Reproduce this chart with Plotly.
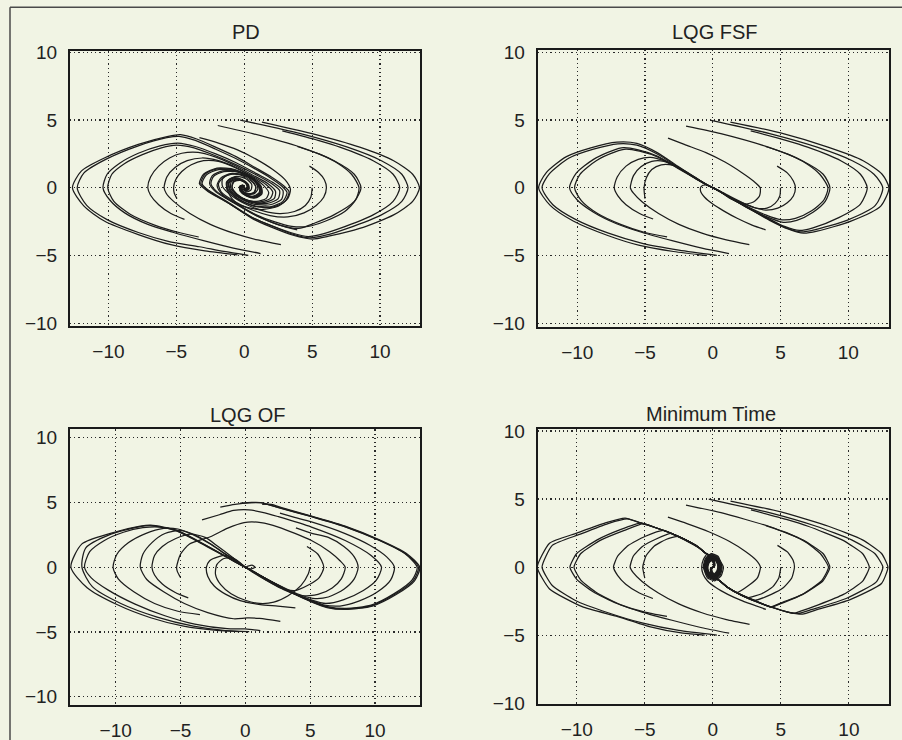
import plotly.graph_objects as go

TICKS = [-10, -5, 0, 5, 10]
TICK_TEXT = ["\u221210", "\u22125", "0", "5", "10"]
TITLES = ["PD", "LQG FSF", "LQG OF", "Minimum Time"]

# ---------------- PD (traced trajectories, (x, v) pairs) ----------------
PD_PATHS = [
    [(1.3,4.85),(5.0,4.0),(8.5,3.0),(11.0,2.0),(12.4,1.0),(12.9,0.0),(12.4,-1.0),(11.0,-2.0),(8.5,-3.0),(6.3,-3.55),(5.0,-3.78),(3.6,-3.5),(2.0,-2.9),(0.7,-2.33),(-1.2,-1.1),(-2.7,-0.25),(-3.3,0.3),(-3.0,1.0),(-2.0,1.45),(-0.7,1.35),(0.5,0.8),(1.25,0.1),(1.3,-0.45),(0.8,-0.75),(0.15,-0.6),(-0.3,-0.25),(-0.35,0.1),(-0.1,0.2),(0.0,0.0)],
    [(-0.3,5.0),(4.15,4.0),(7.6,3.0),(10.1,2.0),(11.6,1.0),(12.06,0.0),(11.6,-1.0),(10.1,-2.0),(7.6,-3.0),(6.0,-3.5),(4.8,-3.7),(3.5,-3.4),(2.0,-2.8),(0.6,-2.2),(-1.3,-1.0),(-2.6,-0.2),(-3.1,0.3),(-2.8,0.95),(-1.9,1.35),(-0.6,1.25),(0.5,0.75),(1.15,0.1),(1.2,-0.4),(0.75,-0.7),(0.15,-0.55),(-0.25,-0.22),(-0.3,0.1),(-0.1,0.18),(0.0,0.0)],
    [(2.8,4.2),(5.44,3.5),(7.04,3.0),(9.49,2.0),(10.96,1.0),(11.45,0.0),(10.96,-1.0),(9.49,-2.0),(7.04,-3.0),(5.8,-3.4),(4.7,-3.6),(3.4,-3.3),(1.9,-2.75),(0.5,-2.15),(-1.3,-1.05),(-2.7,-0.2),(-3.2,0.3),(-2.9,1.0),(-2.0,1.4),(-0.7,1.3),(0.5,0.78),(1.2,0.1),(1.25,-0.42),(0.78,-0.72),(0.15,-0.58),(-0.28,-0.24),(-0.32,0.1),(-0.1,0.19),(0.0,0.0)],
    [(-1.95,4.6),(0.62,4.0),(4.12,3.0),(6.61,2.0),(8.1,1.0),(8.6,0.0),(8.1,-1.0),(6.6,-2.0),(5.2,-2.6),(4.0,-3.0),(2.6,-2.75),(1.0,-2.1),(-0.8,-1.1),(-2.1,-0.3),(-2.55,0.3),(-2.35,0.9),(-1.6,1.25),(-0.5,1.2),(0.5,0.7),(1.1,0.1),(1.15,-0.38),(0.7,-0.65),(0.1,-0.5),(-0.25,-0.2),(-0.25,0.1),(-0.05,0.15),(0.0,0.0)],
    [(3.9,3.05),(5.5,2.5),(6.9,1.8),(7.9,1.0),(8.45,0.0),(8.2,-0.9),(7.4,-1.75),(6.0,-2.45),(4.7,-2.85),(3.5,-2.85),(2.2,-2.5),(0.8,-1.95),(-0.8,-1.05),(-2.0,-0.3),(-2.45,0.3),(-2.25,0.85),(-1.5,1.2),(-0.45,1.15),(0.5,0.7),(1.05,0.1),(1.1,-0.35),(0.65,-0.62),(0.1,-0.48),(-0.22,-0.2),(-0.22,0.1),(-0.05,0.14),(0.0,0.0)],
    [(4.8,1.6),(5.45,1.15),(5.9,0.6),(6.05,0.0),(5.85,-0.7),(5.3,-1.3),(4.4,-1.85),(3.2,-2.15),(1.9,-2.05),(0.5,-1.6),(-0.8,-0.95),(-1.7,-0.3),(-1.9,0.3),(-1.5,0.8),(-0.7,1.05),(0.2,0.85),(0.85,0.4),(1.0,-0.1),(0.7,-0.45),(0.15,-0.45),(-0.2,-0.2),(-0.2,0.08),(0.0,0.0)],
    [(5.0,0.0),(4.9,-0.7),(4.5,-1.3),(3.7,-1.75),(2.6,-1.9),(1.4,-1.7),(0.2,-1.25),(-0.9,-0.6),(-1.6,0.1),(-1.6,0.65),(-1.1,1.0),(-0.3,0.95),(0.45,0.55),(0.85,0.05),(0.75,-0.35),(0.3,-0.45),(-0.1,-0.25),(-0.15,0.05),(0.0,0.0)],
    [(-3.3,3.7),(-1.9,3.3),(-0.5,2.8),(0.9,2.1),(2.1,1.35),(3.0,0.6),(3.4,-0.1),(3.2,-0.8),(2.5,-1.35),(1.4,-1.6),(0.2,-1.45),(-0.9,-1.0),(-1.7,-0.4),(-2.0,0.2),(-1.7,0.75),(-1.0,1.05),(-0.1,0.95),(0.55,0.55),(0.85,0.05),(0.7,-0.35),(0.25,-0.45),(-0.1,-0.25),(-0.15,0.05),(0.0,0.0)],
    [(-0.5,-4.95),(-2.9,-4.66),(-5.4,-4.2),(-7.8,-3.45),(-10.3,-2.45),(-11.8,-1.35),(-12.65,0.0),(-12.0,1.23),(-10.3,2.2),(-7.8,3.2),(-5.6,3.8),(-4.7,3.92),(-3.5,3.6),(-2.0,2.95),(-0.6,2.3),(0.8,1.5),(2.0,0.8),(2.9,0.15),(3.3,-0.3),(3.0,-1.0),(2.0,-1.45),(0.7,-1.35),(-0.5,-0.8),(-1.25,-0.1),(-1.3,0.45),(-0.8,0.75),(-0.15,0.6),(0.3,0.25),(0.35,-0.1),(0.1,-0.2),(0.0,0.0)],
    [(0.3,-4.99),(-1.5,-4.7),(-3.3,-4.35),(-5.6,-3.95),(-7.8,-3.3),(-10.1,-2.35),(-11.6,-1.3),(-12.3,0.0),(-11.8,1.1),(-10.2,2.1),(-7.8,3.1),(-5.7,3.7),(-4.8,3.8),(-3.6,3.5),(-2.1,2.85),(-0.7,2.2),(0.7,1.45),(1.9,0.75),(2.8,0.1),(3.15,-0.35),(2.85,-1.0),(1.9,-1.4),(0.6,-1.3),(-0.5,-0.78),(-1.2,-0.1),(-1.25,0.43),(-0.78,0.72),(-0.15,0.58),(0.28,0.24),(0.32,-0.1),(0.1,-0.19),(0.0,0.0)],
    [(1.2,-4.85),(-0.8,-4.45),(-3.0,-3.9),(-5.2,-3.3),(-7.1,-2.7),(-8.8,-1.85),(-9.9,-0.9),(-10.4,0.0),(-10.1,1.0),(-9.2,1.8),(-7.8,2.55),(-6.2,3.1),(-4.9,3.3),(-3.6,3.05),(-2.1,2.5),(-0.6,1.85),(0.9,1.05),(2.1,0.4),(2.85,-0.2),(2.75,-0.85),(1.9,-1.25),(0.7,-1.2),(-0.45,-0.7),(-1.1,-0.1),(-1.15,0.4),(-0.7,0.68),(-0.1,0.52),(0.25,0.2),(0.25,-0.1),(0.05,-0.15),(0.0,0.0)],
    [(-3.35,-3.63),(-4.8,-3.3),(-6.6,-2.75),(-8.4,-1.95),(-9.6,-1.0),(-10.05,0.0),(-9.75,1.0),(-8.8,1.8),(-7.5,2.45),(-6.1,2.95),(-5.0,3.15),(-3.7,2.95),(-2.2,2.4),(-0.7,1.75),(0.8,1.0),(1.95,0.35),(2.6,-0.2),(2.5,-0.8),(1.7,-1.15),(0.6,-1.1),(-0.45,-0.65),(-1.05,-0.1),(-1.1,0.38),(-0.65,0.62),(-0.1,0.48),(0.22,0.18),(0.22,-0.08),(0.0,0.0)],
    [(-4.4,-2.33),(-5.4,-1.9),(-6.3,-1.25),(-6.9,-0.55),(-7.1,0.0),(-6.9,0.8),(-6.3,1.6),(-5.5,2.2),(-4.6,2.55),(-3.4,2.62),(-2.2,2.3),(-0.8,1.7),(0.6,0.95),(1.75,0.3),(2.3,-0.25),(2.2,-0.8),(1.4,-1.1),(0.4,-1.0),(-0.5,-0.55),(-1.0,0.0),(-0.95,0.45),(-0.5,0.62),(0.0,0.45),(0.25,0.15),(0.2,-0.1),(0.0,0.0)],
    [(2.7,-4.2),(1.0,-3.85),(-0.8,-3.35),(-2.5,-2.7),(-4.0,-1.9),(-5.2,-1.0),(-5.75,-0.4),(-5.9,0.0),(-5.7,0.8),(-5.1,1.5),(-4.2,2.0),(-3.1,2.2),(-1.9,2.0),(-0.6,1.5),(0.6,0.85),(1.6,0.25),(2.1,-0.3),(1.9,-0.8),(1.1,-1.05),(0.2,-0.9),(-0.55,-0.45),(-0.9,0.05),(-0.8,0.45),(-0.35,0.58),(0.1,0.4),(0.25,0.1),(0.15,-0.1),(0.0,0.0)],
    [(-4.95,-0.8),(-5.15,-0.4),(-5.2,0.0),(-5.05,0.6),(-4.6,1.2),(-3.9,1.7),(-3.0,2.0),(-1.9,1.95),(-0.7,1.5),(0.5,0.85),(1.4,0.2),(1.8,-0.35),(1.6,-0.8),(0.9,-1.0),(0.0,-0.85),(-0.65,-0.4),(-0.9,0.05),(-0.75,0.45),(-0.3,0.55),(0.1,0.35),(0.2,0.08),(0.1,-0.08),(0.0,0.0)],
    [(3.9,-3.1),(2.6,-2.75),(1.2,-2.2),(0.0,-1.55),(-0.9,-0.8),(-1.3,0.0),(-1.15,0.6),(-0.55,0.85),(0.15,0.65),(0.55,0.25),(0.5,-0.15),(0.2,-0.3),(-0.05,-0.15),(0.0,0.0)],
]

# ---------------- LQG FSF ----------------
FSF_PATHS = [
    [(1.3,4.85),(5.0,4.05),(8.5,3.0),(11.1,2.0),(12.5,1.0),(13.0,0.0),(12.4,-1.35),(10.2,-2.46),(7.7,-3.2),(6.7,-3.35),(5.6,-3.05),(4.2,-2.4),(2.8,-1.6),(1.5,-0.85),(0.5,-0.25),(0.0,0.0)],
    [(-0.2,5.0),(4.2,4.0),(7.7,3.0),(10.3,2.0),(11.9,1.0),(12.55,0.0),(12.0,-1.3),(9.9,-2.4),(7.5,-3.1),(6.5,-3.25),(5.4,-2.95),(4.1,-2.3),(2.7,-1.55),(1.45,-0.82),(0.5,-0.25),(0.0,0.0)],
    [(2.8,4.2),(5.4,3.5),(7.0,3.0),(9.45,2.0),(10.9,1.0),(11.4,0.0),(10.9,-1.2),(9.3,-2.2),(7.4,-2.95),(6.4,-3.15),(5.3,-2.85),(4.0,-2.2),(2.6,-1.5),(1.4,-0.8),(0.45,-0.22),(0.0,0.0)],
    [(-1.97,4.56),(0.6,4.0),(4.1,3.0),(6.6,2.0),(8.15,1.0),(8.65,0.0),(8.3,-1.0),(7.4,-1.8),(6.2,-2.4),(5.2,-2.55),(4.0,-2.15),(2.7,-1.5),(1.4,-0.8),(0.45,-0.22),(0.0,0.0)],
    [(3.9,3.05),(5.5,2.5),(6.9,1.8),(7.9,1.0),(8.5,0.0),(8.2,-0.9),(7.3,-1.7),(6.1,-2.25),(5.0,-2.35),(3.9,-2.0),(2.7,-1.45),(1.4,-0.78),(0.45,-0.22),(0.0,0.0)],
    [(4.75,1.6),(5.5,1.1),(5.95,0.5),(6.1,0.0),(5.95,-0.6),(5.5,-1.1),(4.8,-1.5),(3.9,-1.65),(2.9,-1.4),(1.8,-0.95),(0.8,-0.45),(0.0,0.0)],
    [(5.0,0.0),(4.95,-0.6),(4.6,-1.15),(4.0,-1.5),(3.2,-1.5),(2.3,-1.15),(1.3,-0.65),(0.5,-0.22),(0.0,0.0)],
    [(-3.3,3.67),(-2.1,3.2),(-0.5,2.6),(0.9,1.9),(2.1,1.15),(3.0,0.5),(3.5,0.0),(3.45,-0.6),(3.0,-1.05),(2.3,-1.2),(1.5,-0.9),(0.7,-0.4),(0.0,0.0)],
    [(-0.47,-5.0),(-2.9,-4.7),(-5.4,-4.25),(-7.8,-3.5),(-10.3,-2.45),(-12.0,-1.3),(-12.85,0.0),(-12.3,1.1),(-10.8,2.3),(-9.0,2.95),(-7.07,3.37),(-5.6,3.28),(-4.1,2.6),(-2.6,1.6),(-1.2,0.7),(-0.4,0.2),(0.0,0.0)],
    [(0.3,-4.99),(-2.5,-4.6),(-5.2,-4.1),(-7.7,-3.35),(-10.1,-2.35),(-11.8,-1.25),(-12.6,0.0),(-12.05,1.05),(-10.6,2.2),(-8.8,2.85),(-7.0,3.25),(-5.6,3.15),(-4.1,2.5),(-2.6,1.55),(-1.2,0.68),(-0.4,0.2),(0.0,0.0)],
    [(1.2,-4.85),(-0.8,-4.45),(-3.0,-3.9),(-5.2,-3.3),(-7.1,-2.65),(-8.8,-1.8),(-10.0,-0.9),(-10.57,0.0),(-10.1,1.05),(-8.8,2.1),(-7.4,2.75),(-6.6,2.96),(-5.5,2.8),(-4.1,2.35),(-2.6,1.5),(-1.2,0.66),(-0.4,0.2),(0.0,0.0)],
    [(-3.37,-3.62),(-5.0,-3.3),(-6.8,-2.7),(-8.5,-1.9),(-9.7,-0.95),(-10.2,0.0),(-9.8,1.0),(-8.6,2.0),(-7.2,2.65),(-6.4,2.85),(-5.4,2.7),(-4.0,2.25),(-2.6,1.45),(-1.2,0.64),(-0.4,0.2),(0.0,0.0)],
    [(-4.4,-2.3),(-5.4,-1.9),(-6.4,-1.25),(-7.0,-0.6),(-7.27,0.0),(-7.05,0.8),(-6.4,1.6),(-5.5,2.1),(-4.6,2.25),(-3.6,2.0),(-2.5,1.45),(-1.2,0.64),(-0.4,0.2),(0.0,0.0)],
    [(2.7,-4.2),(1.0,-3.85),(-0.8,-3.35),(-2.5,-2.7),(-4.0,-1.9),(-5.2,-1.05),(-5.85,-0.4),(-6.08,0.0),(-5.85,0.9),(-5.3,1.55),(-4.5,1.95),(-3.6,1.95),(-2.5,1.45),(-1.2,0.65),(-0.4,0.2),(0.0,0.0)],
    [(-5.0,-0.8),(-5.07,0.0),(-4.9,0.75),(-4.5,1.35),(-3.8,1.7),(-2.9,1.65),(-1.9,1.15),(-1.0,0.58),(-0.35,0.18),(0.0,0.0)],
    [(3.9,-3.1),(2.9,-2.75),(1.8,-2.25),(0.8,-1.7),(0.0,-1.2),(-0.6,-0.7),(-0.9,-0.25),(-0.85,0.1),(-0.5,0.22),(-0.15,0.1),(0.0,0.0)],
]

# ---------------- LQG OF ----------------
OF_PATHS = [
    [(-1.93,4.64),(-0.8,4.85),(0.3,4.97),(1.2,4.98),(2.55,4.6),(5.1,3.9),(7.7,3.12),(10.3,2.08),(12.3,1.05),(13.25,0.0),(12.85,-1.0),(11.45,-2.06),(9.7,-2.93),(7.8,-3.18),(6.4,-3.06),(5.1,-2.62),(3.8,-2.04),(2.5,-1.38),(1.26,-0.7),(0.4,-0.2),(0.0,0.0)],
    [(-0.39,4.95),(0.5,5.0),(1.16,4.99),(2.55,4.62),(5.1,3.92),(7.7,3.14),(10.3,2.1),(12.3,1.07),(13.35,0.0),(12.95,-1.03),(11.5,-2.1),(9.7,-2.98),(7.7,-3.22),(6.4,-3.1),(5.1,-2.66),(3.8,-2.07),(2.5,-1.4),(1.26,-0.71),(0.4,-0.21),(0.0,0.0)],
    [(1.3,4.85),(2.0,4.85),(2.8,4.6),(5.1,3.95),(7.7,3.18),(10.3,2.14),(12.4,1.08),(13.45,0.0),(13.05,-1.05),(11.6,-2.13),(9.8,-3.0),(7.7,-3.26),(6.3,-3.12),(5.1,-2.68),(3.8,-2.09),(2.5,-1.42),(1.26,-0.72),(0.4,-0.22),(0.0,0.0)],
    [(2.67,4.17),(3.8,3.85),(5.1,3.5),(7.7,2.6),(9.6,1.7),(10.9,0.8),(11.5,0.0),(11.2,-1.0),(10.2,-1.9),(8.8,-2.6),(7.3,-3.0),(6.0,-2.9),(4.8,-2.45),(3.6,-1.95),(2.4,-1.33),(1.2,-0.67),(0.4,-0.2),(0.0,0.0)],
    [(-3.34,3.66),(-2.0,4.05),(-0.9,4.38),(0.26,4.43),(1.5,4.2),(2.55,3.9),(5.1,3.1),(7.7,2.06),(9.7,0.9),(10.5,0.0),(10.1,-1.0),(9.1,-1.8),(7.6,-2.5),(6.2,-2.8),(5.0,-2.5),(3.7,-2.0),(2.4,-1.32),(1.2,-0.66),(0.4,-0.2),(0.0,0.0)],
    [(3.9,3.04),(5.2,2.6),(6.4,2.3),(7.6,1.6),(8.4,0.8),(8.7,0.0),(8.4,-0.9),(7.6,-1.7),(6.4,-2.3),(5.2,-2.4),(4.0,-2.05),(2.8,-1.5),(1.6,-0.9),(0.6,-0.35),(0.0,0.0)],
    [(4.75,1.6),(5.6,1.0),(6.05,0.0),(5.7,-0.8),(4.9,-1.35),(3.8,-1.8),(2.6,-1.55),(1.5,-0.95),(0.6,-0.4),(0.0,0.0)],
    [(5.0,0.0),(4.86,-0.5),(4.3,-1.4),(3.3,-2.2),(2.2,-2.7),(1.1,-2.8),(0.0,-2.55),(-1.1,-2.05),(-1.9,-1.35),(-2.3,-0.55),(-2.2,0.2),(-1.7,0.65),(-1.0,0.72),(-0.4,0.35),(0.0,0.0)],
    [(-5.0,-0.8),(-5.25,-0.3),(-5.3,0.0),(-5.0,1.0),(-4.3,1.8),(-2.7,2.35),(-1.4,3.0),(-0.1,3.45),(1.2,3.45),(2.55,3.1),(5.1,2.06),(6.5,1.2),(7.3,0.5),(7.7,0.0),(7.4,-0.9),(6.7,-1.6),(5.6,-2.1),(4.3,-2.2),(3.0,-1.75),(1.7,-1.05),(0.65,-0.4),(0.0,0.0)],
    [(-0.47,-4.97),(-2.2,-4.88),(-4.76,-4.55),(-7.3,-3.9),(-9.9,-2.88),(-12.2,-1.58),(-13.45,0.0),(-12.6,1.8),(-10.4,2.62),(-8.1,3.17),(-7.3,3.25),(-5.3,2.86),(-3.5,1.95),(-1.4,0.78),(-0.5,0.26),(0.0,0.0),(0.45,-0.12),(0.75,0.0),(0.55,0.15),(0.2,0.08),(0.0,0.0)],
    [(0.3,-4.98),(-1.5,-4.9),(-4.0,-4.55),(-6.8,-3.85),(-9.6,-2.8),(-11.8,-1.5),(-12.6,0.0),(-12.3,1.5),(-10.5,2.5),(-8.3,3.1),(-7.2,3.2),(-5.3,2.82),(-3.5,1.92),(-1.4,0.77),(-0.5,0.25),(0.0,0.0)],
    [(1.16,-4.9),(0.0,-4.77),(-1.4,-4.75),(-3.9,-4.4),(-6.2,-3.75),(-8.5,-2.85),(-10.6,-1.75),(-11.9,-0.8),(-12.4,0.0),(-12.0,1.2),(-10.9,2.05),(-9.4,2.7),(-7.9,3.05),(-6.6,3.1),(-5.3,2.8),(-3.9,2.1),(-2.6,1.4),(-1.4,0.75),(-0.5,0.25),(0.0,0.0)],
    [(-3.5,-3.66),(-5.2,-3.4),(-7.0,-2.8),(-8.6,-1.9),(-9.8,-0.9),(-10.2,0.0),(-9.9,1.0),(-9.0,1.9),(-7.7,2.6),(-6.3,3.0),(-5.2,2.95),(-4.0,2.5),(-2.8,1.85),(-1.6,1.05),(-0.6,0.38),(0.0,0.0)],
    [(-4.4,-2.37),(-5.4,-1.95),(-6.4,-1.3),(-7.0,-0.6),(-7.2,0.0),(-7.0,0.9),(-6.4,1.6),(-5.4,2.2),(-4.2,2.55),(-3.1,2.3),(-2.1,1.6),(-1.1,0.85),(-0.4,0.28),(0.0,0.0)],
    [(2.7,-4.18),(1.1,-3.95),(0.13,-3.92),(-0.9,-3.98),(-2.9,-3.5),(-4.7,-2.8),(-6.3,-1.9),(-7.6,-0.95),(-8.1,0.0),(-7.9,1.0),(-7.2,1.9),(-6.2,2.6),(-5.0,2.85),(-3.8,2.45),(-2.6,1.75),(-1.5,1.0),(-0.6,0.38),(0.0,0.0)],
    [(3.86,-3.14),(2.5,-3.0),(1.16,-2.88),(-0.4,-2.58),(-1.5,-2.1),(-2.4,-1.45),(-2.9,-0.7),(-3.0,0.0),(-2.75,0.5),(-2.1,0.8),(-1.44,0.9),(-0.8,0.62),(-0.3,0.22),(0.0,0.0)],
]

# ---------------- Minimum Time ----------------
MT_PATHS = [
    [(1.3,4.85),(5.0,4.05),(8.5,3.0),(11.0,2.0),(12.4,1.0),(12.87,0.0),(12.4,-1.2),(10.05,-2.4),(7.6,-3.14),(6.6,-3.45),(5.5,-3.3),(4.5,-3.0),(3.1,-2.5),(2.0,-2.0),(1.1,-1.5),(0.5,-1.0),(0.1,-0.78),(-0.35,-0.5),(-0.58,0.0),(-0.45,0.55),(-0.08,0.88),(0.32,0.7),(0.52,0.2),(0.45,-0.35),(0.18,-0.7),(-0.1,-0.5),(-0.15,-0.1),(0.0,0.0)],
    [(-0.3,5.0),(4.15,4.0),(7.6,3.0),(10.2,2.0),(11.9,1.0),(12.5,0.0),(12.0,-1.1),(9.8,-2.3),(7.3,-3.1),(6.3,-3.4),(5.3,-3.25),(4.5,-3.0),(3.1,-2.5),(2.0,-2.0),(1.1,-1.5),(0.5,-1.0),(0.1,-0.75),(-0.3,-0.48),(-0.52,0.0),(-0.4,0.5),(-0.08,0.8),(0.28,0.65),(0.46,0.18),(0.4,-0.32),(0.15,-0.62),(-0.08,-0.42),(-0.12,-0.08),(0.0,0.0)],
    [(2.8,4.2),(5.4,3.5),(7.0,3.0),(9.5,2.0),(11.0,1.0),(11.5,0.0),(11.0,-1.05),(9.6,-2.0),(7.8,-2.75),(6.4,-3.25),(5.9,-3.4),(5.0,-3.15),(4.2,-2.9),(3.0,-2.45),(2.0,-2.0),(1.1,-1.5),(0.5,-1.0),(0.1,-0.8),(-0.38,-0.52),(-0.64,0.0),(-0.5,0.6),(-0.1,0.95),(0.35,0.75),(0.58,0.22),(0.5,-0.38),(0.2,-0.75),(-0.1,-0.55),(-0.16,-0.12),(0.0,0.0)],
    [(-1.97,4.56),(0.6,4.0),(4.1,3.0),(6.6,2.0),(8.1,1.0),(8.6,0.0),(8.1,-1.0),(6.6,-2.0),(5.2,-2.6),(4.3,-2.93),(3.1,-2.45),(2.0,-2.0),(1.1,-1.5),(0.5,-1.0),(0.1,-0.72),(-0.27,-0.45),(-0.46,0.0),(-0.36,0.45),(-0.06,0.72),(0.25,0.58),(0.4,0.16),(0.34,-0.28),(0.12,-0.55),(-0.06,-0.38),(-0.1,-0.06),(0.0,0.0)],
    [(3.9,3.05),(5.5,2.5),(6.9,1.8),(7.9,1.0),(8.5,0.0),(8.0,-1.0),(6.6,-2.0),(5.2,-2.55),(4.25,-2.92),(3.1,-2.45),(2.0,-2.0),(1.1,-1.5),(0.5,-1.0),(0.1,-0.82),(-0.42,-0.55),(-0.7,0.0),(-0.55,0.62),(-0.12,1.0),(0.38,0.8),(0.62,0.24),(0.55,-0.4),(0.22,-0.8),(-0.1,-0.58),(-0.18,-0.12),(0.0,0.0)],
    [(4.75,1.6),(5.5,1.1),(5.9,0.5),(6.0,0.0),(5.8,-0.8),(5.2,-1.5),(4.3,-2.0),(3.0,-2.45),(2.0,-2.0),(1.1,-1.5),(0.5,-1.0),(0.1,-0.7),(-0.25,-0.42),(-0.42,0.0),(-0.33,0.42),(-0.05,0.66),(0.22,0.52),(0.36,0.14),(0.3,-0.26),(0.1,-0.5),(-0.05,-0.32),(-0.08,-0.05),(0.0,0.0)],
    [(5.0,0.0),(4.85,-0.8),(4.4,-1.45),(3.6,-1.95),(2.5,-2.24),(1.6,-1.8),(0.9,-1.35),(0.45,-0.95),(0.1,-0.76),(-0.32,-0.48),(-0.55,0.0),(-0.44,0.52),(-0.08,0.84),(0.3,0.68),(0.5,0.2),(0.43,-0.33),(0.16,-0.66),(-0.08,-0.46),(-0.13,-0.1),(0.0,0.0)],
    [(-3.3,3.67),(-1.9,3.2),(-0.3,2.6),(1.2,1.9),(2.4,1.15),(3.2,0.5),(3.5,0.0),(3.3,-0.75),(2.7,-1.3),(1.75,-1.87),(1.0,-1.42),(0.45,-0.95),(0.1,-0.72),(-0.26,-0.46),(-0.48,0.0),(-0.38,0.46),(-0.07,0.75),(0.26,0.6),(0.43,0.17),(0.37,-0.3),(0.14,-0.58),(-0.07,-0.4),(-0.1,-0.07),(0.0,0.0)],
    [(-0.6,-5.0),(-2.2,-4.85),(-4.66,-4.36),(-7.1,-3.6),(-9.6,-2.9),(-12.0,-1.6),(-12.9,0.0),(-12.0,1.76),(-10.0,2.5),(-7.9,3.25),(-6.45,3.6),(-5.3,3.25),(-4.5,3.0),(-3.1,2.5),(-2.0,2.0),(-1.1,1.5),(-0.5,1.0),(-0.1,0.8),(0.4,0.52),(0.68,0.0),(0.55,-0.58),(0.12,-0.92),(-0.34,-0.72),(-0.56,-0.2),(-0.48,0.35),(-0.2,0.7),(0.08,0.48),(0.12,0.08),(0.0,0.0)],
    [(0.3,-4.99),(-2.5,-4.65),(-5.2,-4.1),(-7.7,-3.35),(-10.1,-2.45),(-11.8,-1.35),(-12.55,0.0),(-11.8,1.6),(-9.8,2.4),(-7.7,3.2),(-6.27,3.54),(-5.2,3.2),(-4.5,3.0),(-3.1,2.5),(-2.0,2.0),(-1.1,1.5),(-0.5,1.0),(-0.1,0.76),(0.34,0.48),(0.6,0.0),(0.48,-0.52),(0.1,-0.84),(-0.3,-0.66),(-0.5,-0.18),(-0.43,0.32),(-0.17,0.64),(0.07,0.44),(0.1,0.07),(0.0,0.0)],
    [(1.2,-4.85),(-0.8,-4.45),(-3.0,-3.9),(-5.2,-3.3),(-7.1,-2.65),(-8.8,-1.8),(-10.0,-0.9),(-10.5,0.0),(-10.0,1.0),(-8.5,2.0),(-6.8,2.75),(-5.28,3.25),(-4.5,3.0),(-3.1,2.5),(-2.0,2.0),(-1.1,1.5),(-0.5,1.0),(-0.1,0.84),(0.45,0.56),(0.78,0.0),(0.62,-0.62),(0.14,-1.0),(-0.38,-0.8),(-0.62,-0.24),(-0.55,0.38),(-0.22,0.78),(0.1,0.55),(0.15,0.1),(0.0,0.0)],
    [(-3.37,-3.62),(-5.0,-3.3),(-6.8,-2.75),(-8.5,-1.9),(-9.7,-0.95),(-10.2,0.0),(-9.7,1.0),(-8.2,2.0),(-6.5,2.7),(-5.1,3.19),(-4.3,2.93),(-3.1,2.5),(-2.0,2.0),(-1.1,1.5),(-0.5,1.0),(-0.1,0.72),(0.27,0.45),(0.46,0.0),(0.36,-0.45),(0.06,-0.72),(-0.25,-0.58),(-0.4,-0.16),(-0.34,0.28),(-0.12,0.55),(0.06,0.38),(0.1,0.06),(0.0,0.0)],
    [(-4.4,-2.3),(-5.4,-1.9),(-6.4,-1.25),(-7.0,-0.6),(-7.3,0.0),(-7.0,0.8),(-6.2,1.6),(-5.0,2.25),(-3.63,2.7),(-2.6,2.25),(-1.7,1.8),(-1.0,1.4),(-0.5,1.0),(-0.1,0.78),(0.36,0.5),(0.6,0.0),(0.48,-0.55),(0.1,-0.88),(-0.32,-0.7),(-0.52,-0.2),(-0.45,0.35),(-0.18,0.7),(0.08,0.5),(0.12,0.1),(0.0,0.0)],
    [(2.7,-4.2),(1.0,-3.85),(-0.8,-3.35),(-2.5,-2.7),(-4.0,-1.9),(-5.2,-1.05),(-5.85,-0.4),(-6.08,0.0),(-5.85,0.8),(-5.2,1.5),(-4.2,2.05),(-3.04,2.47),(-2.0,2.0),(-1.1,1.5),(-0.5,1.0),(-0.1,0.7),(0.25,0.42),(0.42,0.0),(0.33,-0.42),(0.05,-0.66),(-0.22,-0.52),(-0.36,-0.14),(-0.3,0.26),(-0.1,0.5),(0.05,0.32),(0.08,0.05),(0.0,0.0)],
    [(-5.0,-0.8),(-5.15,0.0),(-4.9,0.85),(-4.3,1.55),(-3.4,2.05),(-2.55,2.26),(-1.7,1.85),(-1.0,1.42),(-0.5,1.0),(-0.1,0.75),(0.3,0.48),(0.52,0.0),(0.4,-0.5),(0.08,-0.8),(-0.28,-0.65),(-0.45,-0.18),(-0.4,0.3),(-0.15,0.62),(0.07,0.42),(0.1,0.07),(0.0,0.0)],
    [(3.9,-3.1),(2.22,-2.5),(1.1,-2.0),(0.22,-1.5),(-0.4,-1.0),(-0.72,-0.5),(-0.82,0.0),(-0.7,0.55),(-0.42,0.95),(-0.1,0.78),(0.32,0.5),(0.56,0.0),(0.42,-0.5),(0.08,-0.78),(-0.26,-0.6),(-0.42,-0.16),(-0.34,0.3),(-0.1,0.5),(0.06,0.22),(0.0,0.0)],
]

# ---------------- styling ----------------
BG = "#F1F4E4"
INK = "#1c1c1c"
FONT = "Liberation Sans, Arial, Helvetica, sans-serif"

fig = go.Figure()

panels = [
    (PD_PATHS, "x", "y", 0.7),
    (FSF_PATHS, "x2", "y2", 0.7),
    (OF_PATHS, "x3", "y3", 0.7),
    (MT_PATHS, "x4", "y4", 0.5),
]
for paths, xa, ya, sm in panels:
    for p in paths:
        fig.add_trace(go.Scatter(
            x=[pt[0] for pt in p], y=[pt[1] for pt in p],
            mode="lines",
            line=dict(color=INK, width=1.25, shape="spline", smoothing=sm),
            xaxis=xa, yaxis=ya, hoverinfo="skip", showlegend=False,
        ))

W, H = 902, 740


def xdom(l, r):
    return [l / W, r / W]


def ydom(t, b):
    return [1 - b / H, 1 - t / H]


def axis(domain, rng, anchor):
    return dict(
        domain=domain, range=rng, anchor=anchor, automargin=False,
        tickmode="array", tickvals=TICKS, ticktext=TICK_TEXT,
        showgrid=True, gridcolor="#2a2a2a", gridwidth=1.2, griddash="1.2px,3px",
        zeroline=False, showline=True, mirror=True,
        linecolor="#1a1a1a", linewidth=2, ticks="",
        tickfont=dict(family=FONT, size=19, color="#222222"),
        ticklabelstandoff=7, fixedrange=True,
    )


layout_axes = dict(
    xaxis=axis(xdom(70, 420), [-12.83, 12.94], "y"),
    yaxis=axis(ydom(50.7, 326), [-10.2, 10.12], "x"),
    xaxis2=axis(xdom(537.7, 889.3), [-12.92, 13.03], "y2"),
    yaxis2=axis(ydom(50, 326.7), [-10.25, 10.17], "x2"),
    xaxis3=axis(xdom(70, 420), [-13.52, 13.47], "y3"),
    yaxis3=axis(ydom(429.3, 705), [-10.64, 10.65], "x3"),
    xaxis4=axis(xdom(537.7, 889.3), [-12.87, 12.97], "y4"),
    yaxis4=axis(ydom(429.3, 704.3), [-10.07, 10.12], "x4"),
)

title_pos = [(246, 32), (715, 32), (248, 415), (711, 414)]
annotations = []
for t, (px, py) in zip(TITLES, title_pos):
    annotations.append(dict(
        text=t, x=px / W, y=1 - py / H, xref="paper", yref="paper",
        xanchor="center", yanchor="middle", showarrow=False,
        font=dict(family=FONT, size=20, color="#222222"),
    ))

shapes = [
    dict(type="line", xref="paper", yref="paper", x0=10 / W, x1=1.0, y0=1 - 7.3 / H, y1=1 - 7.3 / H,
         line=dict(color="#4a4a4a", width=1.5)),
    dict(type="line", xref="paper", yref="paper", x0=10 / W, x1=10 / W, y0=0.0, y1=1 - 7.3 / H,
         line=dict(color="#4a4a4a", width=1.5)),
]

fig.update_layout(
    template="none",
    width=W, height=H,
    margin=dict(l=0, r=0, t=0, b=0, pad=0, autoexpand=False),
    paper_bgcolor=BG, plot_bgcolor=BG,
    showlegend=False,
    annotations=annotations,
    shapes=shapes,
    **layout_axes,
)

fig.write_html(
    "out.html",
    config={"displayModeBar": False, "staticPlot": True},
    post_script="document.body.style.margin='0px';document.body.style.padding='0px';"
                "document.body.style.overflow='hidden';"
                "document.documentElement.style.background='" + BG + "';",
)
